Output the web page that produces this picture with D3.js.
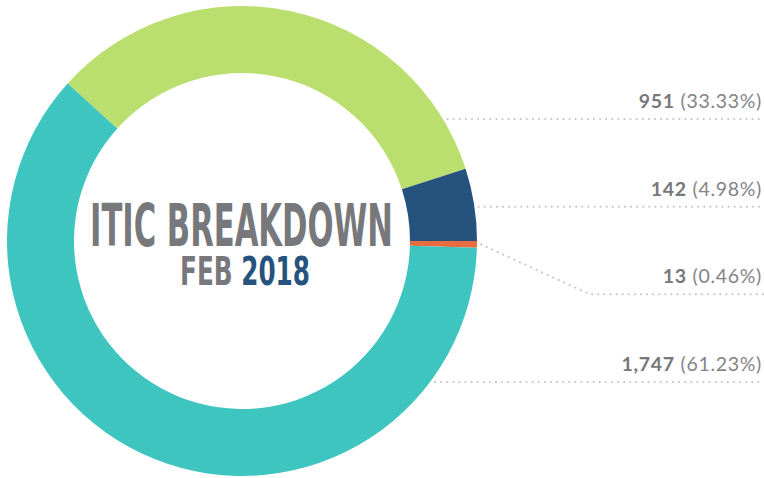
<!DOCTYPE html>
<html>
<head>
<meta charset="utf-8">
<script src="https://cdn.jsdelivr.net/npm/d3@7"></script>
<style>
  html, body { margin: 0; padding: 0; background: #fff; }
  svg { display: block; }
</style>
</head>
<body>
<div id="chart"></div>
<script>
// chart data
const categories = ['A', 'B', 'C', 'D'];
const counts = [951, 142, 13, 1747];
const colors = ['#badf6f', '#26527e', '#e86c40', '#3ec5c0'];
const titleLine1 = 'ITIC BREAKDOWN';
const titleMonth = 'FEB';
const titleYear = '2018';

const width = 764, height = 478;
const cx = 242, cy = 241;
const outerR = 235, innerR = 168;
const total = d3.sum(counts);

const svg = d3.select('#chart').append('svg')
    .attr('width', width)
    .attr('height', height)
    .attr('viewBox', [0, 0, width, height].join(' '));

// blue / orange boundary sits on the horizontal (3 o'clock)
const start = Math.PI / 2 - 2 * Math.PI * (counts[0] + counts[1]) / total;

const pie = d3.pie()
    .sort(null)
    .value((d) => d)
    .startAngle(start)
    .endAngle(start + 2 * Math.PI);

const arcs = pie(counts);

const arc = d3.arc()
    .innerRadius(innerR)
    .outerRadius(outerR);

const g = svg.append('g')
    .attr('transform', `translate(${cx},${cy})`);

g.selectAll('path')
    .data(arcs)
    .enter()
    .append('path')
    .attr('d', arc)
    .attr('fill', (d, i) => colors[i]);

// labels on the right
const y = d3.scalePoint()
    .domain(categories)
    .range([119, 382]);

const lineR = outerR + 4;
const bendX = 590;
const fmtNum = d3.format(',');
const fmtPct = d3.format('.2%');

function leaderPoints(d, i) {
    const ly = y(categories[i]);
    const dy = ly - cy;
    const norm = (a) => ((a % (2 * Math.PI)) + 2 * Math.PI) % (2 * Math.PI);
    if (Math.abs(dy) < lineR) {
        const dx = Math.sqrt(lineR * lineR - dy * dy);
        const ang = norm(Math.atan2(dx, -dy));
        const s = norm(d.startAngle), e = s + (d.endAngle - d.startAngle);
        if ((ang >= s && ang <= e) || (ang + 2 * Math.PI >= s && ang + 2 * Math.PI <= e)) {
            return [[cx + dx, ly], [width, ly]];
        }
    }
    const mid = (d.startAngle + d.endAngle) / 2;
    const p = [cx + lineR * Math.sin(mid), cy - lineR * Math.cos(mid)];
    return [p, [bendX, ly], [width, ly]];
}

svg.append('g')
    .selectAll('path')
    .data(arcs)
    .enter()
    .append('path')
    .attr('d', (d, i) => d3.line()(leaderPoints(d, i)))
    .attr('fill', 'none')
    .attr('stroke', '#c4c4c4')
    .attr('stroke-width', 2)
    .attr('stroke-linecap', 'round')
    .attr('stroke-dasharray', '0.1 6');

const label = svg.append('g')
    .selectAll('text')
    .data(counts)
    .enter()
    .append('text')
    .attr('x', 762)
    .attr('y', (d, i) => y(categories[i]) - 11)
    .attr('text-anchor', 'end')
    .attr('font-family', 'Lato, "Open Sans", sans-serif')
    .attr('font-size', '19.5px')
    .attr('letter-spacing', '0.7px')
    .attr('fill', '#77787b');

label.append('tspan')
    .attr('font-weight', 'bold')
    .text((d) => fmtNum(d));

label.append('tspan')
    .attr('fill', '#838487')
    .text((d) => ' (' + fmtPct(d / total) + ')');

// title in the hole
svg.append('text')
    .attr('x', 241.5)
    .attr('y', 246)
    .attr('text-anchor', 'middle')
    .attr('font-family', '"Liberation Sans Narrow", "DejaVu Sans Condensed", sans-serif')
    .attr('font-weight', 'bold')
    .attr('font-size', '59px')
    .attr('fill', '#77787b')
    .attr('textLength', 303)
    .attr('lengthAdjust', 'spacingAndGlyphs')
    .text(titleLine1);

const sub = svg.append('text')
    .attr('x', 245)
    .attr('y', 285)
    .attr('text-anchor', 'middle')
    .attr('font-family', '"Liberation Sans Narrow", "DejaVu Sans Condensed", sans-serif')
    .attr('font-weight', 'bold')
    .attr('font-size', '39px')
    .attr('textLength', 130)
    .attr('lengthAdjust', 'spacingAndGlyphs');

sub.append('tspan')
    .attr('fill', '#77787b')
    .text(titleMonth + ' ');

sub.append('tspan')
    .attr('fill', '#26527e')
    .text(titleYear);
</script>
</body>
</html>
